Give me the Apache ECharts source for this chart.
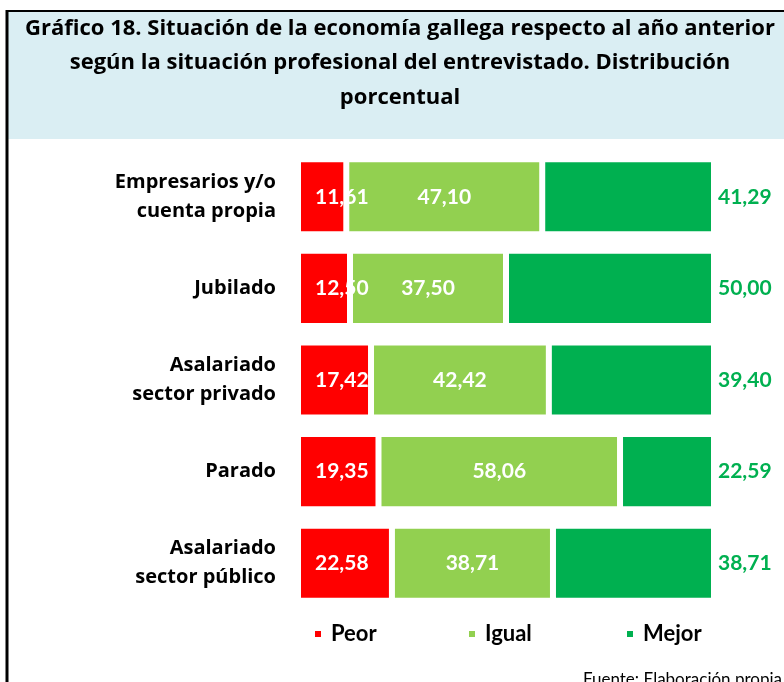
<!DOCTYPE html>
<html>
<head>
<meta charset="utf-8">
<script src="https://cdn.jsdelivr.net/npm/echarts@6/dist/echarts.min.js"></script>
<style>
  html, body { margin: 0; padding: 0; background: #fff; }
  #chart { width: 784px; height: 682px; }
</style>
</head>
<body>
<div id="chart"></div>
<script>
  // categorías (de arriba a abajo)
  var categorias = ['Empresarios y/o\ncuenta propia', 'Jubilado', 'Asalariado\nsector privado', 'Parado', 'Asalariado\nsector público'];
  var peor = [11.61, 12.50, 17.42, 19.35, 22.58];
  var igual = [47.10, 37.50, 42.42, 58.06, 38.71];
  var mejor = [41.29, 50.00, 39.40, 22.59, 38.71];
  var nombres = ['Peor', 'Igual', 'Mejor'];

  var fuente = 'Lato, "Open Sans", sans-serif';
  var fuente2 = '"Open Sans", Lato, sans-serif';

  // barras 100% apiladas (como en Excel): se normaliza por fila, la etiqueta muestra el valor original
  var totales = peor.map(function(v, i) { return v + igual[i] + mejor[i]; });
  function aPorcentaje(arr) {
    return arr.map(function(v, i) { return { value: v / totales[i] * 100, raw: v }; });
  }
  function fmt(p) {
    return p.data.raw.toFixed(2).replace('.', ',');
  }

  var myChart = echarts.init(document.getElementById('chart'));

  var borde = { borderColor: '#fff', borderWidth: 3 };
  var leyendaTexto = { fontFamily: fuente, fontWeight: 'bold', fontSize: 22, color: '#000', padding: [0, 0, 0, 4] };

  var option = {
    animation: false,
    grid: { left: 298, right: 70, top: 151, bottom: 73 },
    xAxis: { type: 'value', min: 0, max: 100, show: false },
    yAxis: {
      type: 'category',
      data: categorias,
      inverse: true,
      axisLine: { show: false },
      axisTick: { show: false },
      axisLabel: {
        margin: 22,
        color: '#000',
        fontFamily: fuente2,
        fontWeight: 'bold',
        fontSize: 20,
        lineHeight: 29,
        align: 'right'
      }
    },
    legend: [
      { data: ['Peor'], left: 313, top: 623, padding: 0, icon: 'rect', itemWidth: 8, itemHeight: 8, textStyle: leyendaTexto },
      { data: ['Igual'], left: 467, top: 623, padding: 0, icon: 'rect', itemWidth: 8, itemHeight: 8, textStyle: leyendaTexto },
      { data: ['Mejor'], left: 625, top: 623, padding: 0, icon: 'rect', itemWidth: 8, itemHeight: 8, textStyle: leyendaTexto }
    ],
    graphic: [
      { type: 'rect', z: -10, shape: { x: 7, y: 11, width: 800, height: 128 }, style: { fill: '#DAEEF3' } },
      { type: 'line', z: 10, shape: { x1: 7, y1: 11, x2: 790, y2: 11 }, style: { stroke: '#000', lineWidth: 2 } },
      { type: 'line', z: 10, shape: { x1: 7, y1: 10, x2: 7, y2: 690 }, style: { stroke: '#000', lineWidth: 3 } },
      {
        type: 'text', x: 400, y: 11,
        style: {
          text: 'Gráfico 18. Situación de la economía gallega respecto al año anterior\nsegún la situación profesional del entrevistado. Distribución\nporcentual',
          fill: '#000', font: 'bold 22px ' + fuente2, lineHeight: 34.5,
          align: 'center', verticalAlign: 'top'
        }
      },
      {
        type: 'text', x: 782, y: 680,
        style: {
          text: 'Fuente: Elaboración propia',
          fill: '#000', font: '17px ' + fuente,
          align: 'right', verticalAlign: 'middle'
        }
      }
    ],
    series: [
      {
        name: nombres[0], type: 'bar', stack: 'total', data: aPorcentaje(peor), barCategoryGap: '18%',
        itemStyle: Object.assign({ color: '#FF0000' }, borde),
        label: { show: true, position: 'insideLeft', distance: 17, formatter: fmt, color: '#fff',
          fontFamily: fuente, fontWeight: 'bold', fontSize: 21 }
      },
      {
        name: nombres[1], type: 'bar', stack: 'total', data: aPorcentaje(igual), barCategoryGap: '18%',
        itemStyle: Object.assign({ color: '#92D050' }, borde),
        label: { show: true, position: 'inside', formatter: fmt, color: '#fff',
          fontFamily: fuente, fontWeight: 'bold', fontSize: 21 }
      },
      {
        name: nombres[2], type: 'bar', stack: 'total', data: aPorcentaje(mejor), barCategoryGap: '18%',
        itemStyle: Object.assign({ color: '#00B050' }, borde),
        label: { show: true, position: 'right', distance: 4, formatter: fmt, color: '#00B050',
          fontFamily: fuente, fontWeight: 'bold', fontSize: 21 }
      }
    ]
  };

  myChart.setOption(option);
</script>
</body>
</html>
